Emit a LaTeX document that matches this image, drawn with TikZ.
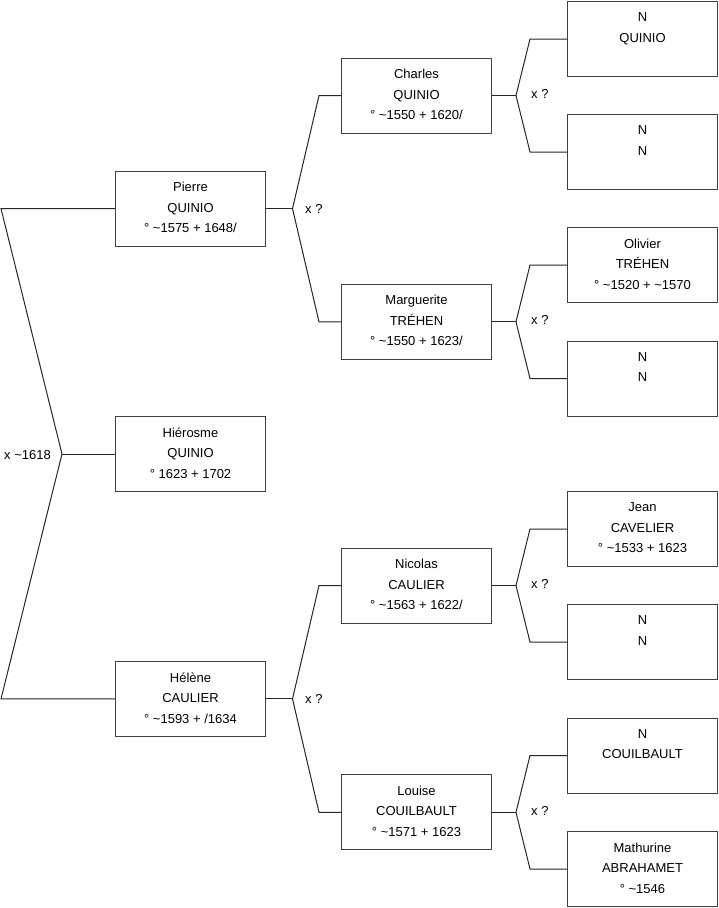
\documentclass[tikz,border=0pt]{standalone}
\usepackage{fontspec}
\setmainfont{Liberation Sans}
\newcommand{\vers}{\textasciitilde}

\begin{document}
\begin{tikzpicture}[x=1pt, y=-1pt,
    box/.style={draw=black!75, line width=1pt, minimum width=150pt, minimum height=75pt, anchor=north west, inner sep=0pt},
    txt/.style={anchor=north, align=center, inner sep=0pt, yshift=-11.5pt, font=\fontsize{13}{20.5}\selectfont},
    lien/.style={draw=black!85, line width=1pt},
    mariage/.style={inner sep=0pt, font=\fontsize{13}{16}\selectfont}]

    \useasboundingbox (0,0) rectangle (719,908);

    % premiere colonne
    \node[box] (pierre) at (115,170.6) {};
    \node[txt] (pierre-t) at (pierre.north) {Pierre\\QUINIO\\° \vers1575 + 1648/};
    \node[box] (hierosme) at (115,416) {};
    \node[txt] (hierosme-t) at (hierosme.north) {Hiérosme\\QUINIO\\° 1623 + 1702};
    \node[box] (helene) at (115,660.9) {};
    \node[txt] (helene-t) at (helene.north) {Hélène\\CAULIER\\° \vers1593 + /1634};

    % deuxieme colonne
    \node[box] (charles) at (341,57.5) {};
    \node[txt] (charles-t) at (charles.north) {Charles\\QUINIO\\° \vers1550 + 1620/};
    \node[box] (marguerite) at (341,283.8) {};
    \node[txt] (marguerite-t) at (marguerite.north) {Marguerite\\TRÉHEN\\° \vers1550 + 1623/};
    \node[box] (nicolas) at (341,547.5) {};
    \node[txt] (nicolas-t) at (nicolas.north) {Nicolas\\CAULIER\\° \vers1563 + 1622/};
    \node[box] (louise) at (341,774.3) {};
    \node[txt] (louise-t) at (louise.north) {Louise\\COUILBAULT\\° \vers1571 + 1623};

    % troisieme colonne
    \node[box] (n1) at (567,1) {};
    \node[txt] (n1-t) at (n1.north) {N\\QUINIO};
    \node[box] (n2) at (567,114) {};
    \node[txt] (n2-t) at (n2.north) {N\\N};
    \node[box] (olivier) at (567,227) {};
    \node[txt] (olivier-t) at (olivier.north) {Olivier\\TRÉHEN\\° \vers1520 + \vers1570};
    \node[box] (n3) at (567,340.5) {};
    \node[txt] (n3-t) at (n3.north) {N\\N};
    \node[box] (jean) at (567,491) {};
    \node[txt] (jean-t) at (jean.north) {Jean\\CAVELIER\\° \vers1533 + 1623};
    \node[box] (n4) at (567,604) {};
    \node[txt] (n4-t) at (n4.north) {N\\N};
    \node[box] (n5) at (567,717.5) {};
    \node[txt] (n5-t) at (n5.north) {N\\COUILBAULT};
    \node[box] (mathurine) at (567,831) {};
    \node[txt] (mathurine-t) at (mathurine.north) {Mathurine\\ABRAHAMET\\° \vers1546};

    % parents de Hierosme
    \coordinate (haut) at ([xshift=-114pt]pierre.west);
    \coordinate (bas) at ([xshift=-114pt]helene.west);
    \coordinate (fh) at ([xshift=-53pt]hierosme.west);
    \draw[lien] (pierre.west) -- (haut) -- (fh) -- (bas) -- (helene.west);
    \draw[lien] (hierosme.west) -- (fh);
    \node[mariage, anchor=east] (m-hierosme) at ([xshift=-11pt,yshift=-1pt]fh) {x \vers1618};

    % parents de Pierre et de Helene
    \coordinate (fp) at ([xshift=26.5pt]pierre.east);
    \draw[lien] (pierre.east) -- (fp);
    \draw[lien] (charles.west) -- ++(-22,0) -- (fp) -- ([xshift=-22pt]marguerite.west) -- (marguerite.west);
    \node[mariage, anchor=west] (m-pierre) at ([xshift=12.5pt]fp) {x ?};

    \coordinate (fe) at ([xshift=26.5pt]helene.east);
    \draw[lien] (helene.east) -- (fe);
    \draw[lien] (nicolas.west) -- ++(-22,0) -- (fe) -- ([xshift=-22pt]louise.west) -- (louise.west);
    \node[mariage, anchor=west] (m-helene) at ([xshift=12.5pt]fe) {x ?};

    % grands-parents
    \coordinate (fc) at ([xshift=24pt]charles.east);
    \draw[lien] (charles.east) -- (fc);
    \draw[lien] (n1.west) -- ++(-37,0) -- (fc) -- ([xshift=-37pt]n2.west) -- (n2.west);
    \node[mariage, anchor=west] (m-charles) at ([xshift=15pt,yshift=1.5pt]fc) {x ?};

    \coordinate (fm) at ([xshift=24pt]marguerite.east);
    \draw[lien] (marguerite.east) -- (fm);
    \draw[lien] (olivier.west) -- ++(-37,0) -- (fm) -- ([xshift=-37pt]n3.west) -- (n3.west);
    \node[mariage, anchor=west] (m-marguerite) at ([xshift=15pt,yshift=1.5pt]fm) {x ?};

    \coordinate (fn) at ([xshift=24pt]nicolas.east);
    \draw[lien] (nicolas.east) -- (fn);
    \draw[lien] (jean.west) -- ++(-37,0) -- (fn) -- ([xshift=-37pt]n4.west) -- (n4.west);
    \node[mariage, anchor=west] (m-nicolas) at ([xshift=15pt,yshift=1.5pt]fn) {x ?};

    \coordinate (fl) at ([xshift=24pt]louise.east);
    \draw[lien] (louise.east) -- (fl);
    \draw[lien] (n5.west) -- ++(-37,0) -- (fl) -- ([xshift=-37pt]mathurine.west) -- (mathurine.west);
    \node[mariage, anchor=west] (m-louise) at ([xshift=15pt,yshift=1.5pt]fl) {x ?};

\end{tikzpicture}
\end{document}
